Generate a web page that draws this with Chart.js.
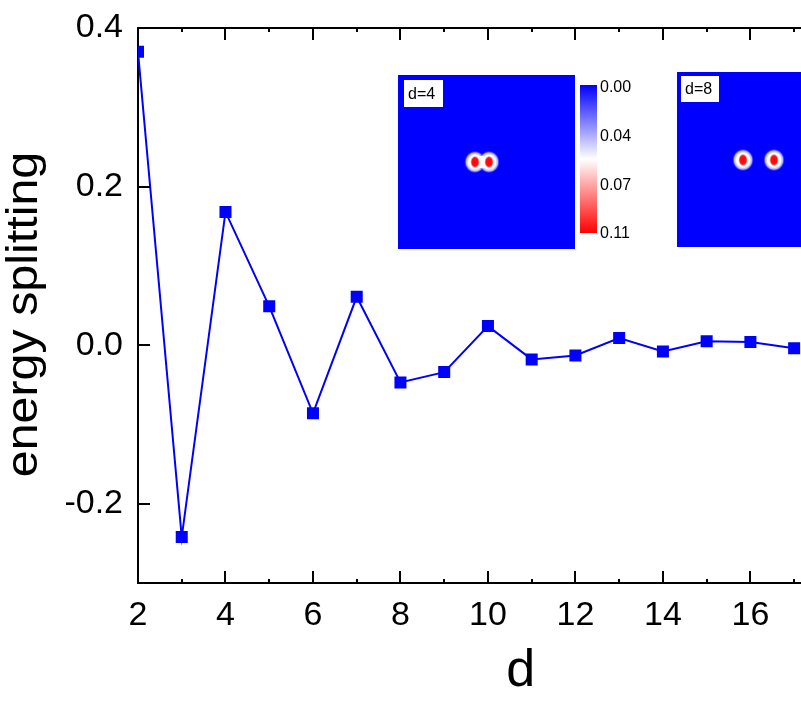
<!DOCTYPE html>
<html>
<head>
<meta charset="utf-8">
<script src="https://cdn.jsdelivr.net/npm/chart.js@4.4.1/dist/chart.umd.min.js"></script>
<style>
  html, body { margin: 0; padding: 0; background: #fff; overflow: hidden; }
  #wrap { width: 801px; height: 718px; overflow: hidden; }
  #myChart { display: block; }
</style>
</head>
<body>
<div id="wrap"><canvas id="myChart" width="912" height="718" style="width:912px;height:718px"></canvas></div>
<script>
// distance d and the energy splitting
const dValues = [2, 3, 4, 5, 6, 7, 8, 9, 10, 11, 12, 13, 14, 15, 16, 17];
const splitting = [0.370, -0.242, 0.168, 0.049, -0.086, 0.061, -0.047, -0.034,
                   0.024, -0.018, -0.013, 0.009, -0.008, 0.005, 0.004, -0.004];

// colour bar labels of the density insets
const cbarLabels = ['0.00', '0.04', '0.07', '0.11'];
const insetLabels = ['d=4', 'd=8'];

const FONT = 'Liberation Sans, Arial, Helvetica, sans-serif';
const BLUE = 'rgb(0,0,255)';

// frame, inward ticks and minor ticks
const frameTicks = {
  id: 'frameTicks',
  afterDraw(chart) {
    const { ctx, chartArea: a, scales: { x, y } } = chart;
    ctx.save();
    ctx.strokeStyle = '#000';
    ctx.lineWidth = 2;
    ctx.beginPath();
    ctx.moveTo(a.left - 1, a.top);
    ctx.lineTo(a.right, a.top);
    ctx.lineTo(a.right, a.bottom);
    ctx.stroke();
    ctx.beginPath();
    x.ticks.forEach(t => {
      const px = Math.round(x.getPixelForValue(t.value));
      ctx.moveTo(px, a.bottom); ctx.lineTo(px, a.bottom - 12);
      ctx.moveTo(px, a.top); ctx.lineTo(px, a.top + 12);
    });
    for (let v = Math.ceil(x.min); v <= x.max; v++) {
      if (v % 2 === 0) continue;
      const px = Math.round(x.getPixelForValue(v));
      ctx.moveTo(px, a.bottom); ctx.lineTo(px, a.bottom - 4);
      ctx.moveTo(px, a.top); ctx.lineTo(px, a.top + 4);
    }
    y.ticks.forEach(t => {
      const py = Math.round(y.getPixelForValue(t.value));
      ctx.moveTo(a.left, py); ctx.lineTo(a.left + 12, py);
    });
    ctx.stroke();

    // y title, stretched a little along its length like the original
    ctx.fillStyle = '#000';
    ctx.font = '44px ' + FONT;
    ctx.textAlign = 'center';
    ctx.textBaseline = 'middle';
    ctx.translate(25, (a.top + a.bottom) / 2 + 9);
    ctx.rotate(-Math.PI / 2);
    ctx.scale(1.1, 1);
    ctx.fillText('energy splitting', 0, 0);
    ctx.restore();
  }
};

function drawSpot(ctx, cx, cy) {
  ctx.save();
  ctx.translate(cx, cy);
  ctx.scale(1, 1.05);
  let g = ctx.createRadialGradient(0, 0, 0, 0, 0, 11);
  g.addColorStop(0, 'rgba(255,255,255,1)');
  g.addColorStop(0.6, 'rgba(255,255,255,1)');
  g.addColorStop(0.8, 'rgba(215,215,255,0.8)');
  g.addColorStop(1, 'rgba(0,0,255,0)');
  ctx.fillStyle = g;
  ctx.beginPath(); ctx.arc(0, 0, 11, 0, Math.PI * 2); ctx.fill();
  ctx.restore();
}

function drawCore(ctx, cx, cy) {
  ctx.save();
  ctx.translate(cx, cy);
  ctx.scale(1, 1.35);
  const g = ctx.createRadialGradient(0, 0, 0, 0, 0, 5);
  g.addColorStop(0, 'rgb(255,0,0)');
  g.addColorStop(0.65, 'rgb(255,20,20)');
  g.addColorStop(1, 'rgba(255,220,220,0)');
  ctx.fillStyle = g;
  ctx.beginPath(); ctx.arc(0, 0, 5, 0, Math.PI * 2); ctx.fill();
  ctx.restore();
}

function drawInset(ctx, box, label, spots) {
  ctx.fillStyle = BLUE;
  ctx.fillRect(box.x, box.y, box.w, box.h);
  spots.forEach(s => drawSpot(ctx, s[0], s[1]));
  if (spots[1][0] - spots[0][0] < 20) {
    // close pair: the halos merge into one white band
    ctx.fillStyle = '#fff';
    ctx.fillRect(spots[0][0], spots[0][1] - 6, spots[1][0] - spots[0][0], 12);
  }
  spots.forEach(s => drawCore(ctx, s[0], s[1]));
  ctx.fillStyle = '#fff';
  ctx.fillRect(box.x + box.lx, box.y + box.ly, box.lw, box.lh);
  ctx.fillStyle = '#000';
  ctx.font = '16px ' + FONT;
  ctx.textBaseline = 'middle';
  ctx.textAlign = 'left';
  ctx.fillText(label, box.x + box.lx + 4, box.y + box.ly + box.lh / 2 + 1);
}

const insets = {
  id: 'insets',
  afterDraw(chart) {
    const ctx = chart.ctx;
    ctx.save();
    drawInset(ctx, { x: 398, y: 75, w: 177, h: 174, lx: 6, ly: 5, lw: 39, lh: 27 },
      insetLabels[0], [[475, 162], [489, 162]]);
    drawInset(ctx, { x: 677, y: 72, w: 177, h: 175, lx: 4, ly: 4, lw: 38, lh: 26 },
      insetLabels[1], [[743, 160], [774, 160]]);

    // colour bar
    const cb = { x: 580, y: 85, w: 17, h: 148 };
    const g = ctx.createLinearGradient(0, cb.y, 0, cb.y + cb.h);
    g.addColorStop(0, 'rgb(0,0,255)');
    g.addColorStop(0.5, 'rgb(255,255,255)');
    g.addColorStop(1, 'rgb(255,0,0)');
    ctx.fillStyle = g;
    ctx.fillRect(cb.x, cb.y, cb.w, cb.h);
    ctx.fillStyle = '#000';
    ctx.font = '16px ' + FONT;
    ctx.textBaseline = 'middle';
    ctx.textAlign = 'left';
    cbarLabels.forEach((t, i) => {
      ctx.fillText(t, cb.x + cb.w + 3, cb.y + 3 + i * (cb.h - 2) / (cbarLabels.length - 1));
    });
    ctx.restore();
  }
};

// keep the plot area where the original has it, whatever the label overhang
function noOverhang(scale) {
  scale.paddingTop = 0;
  scale.paddingBottom = 0;
  scale.paddingLeft = 0;
  scale.paddingRight = 0;
}

new Chart(document.getElementById('myChart'), {
  type: 'line',
  data: {
    datasets: [{
      data: dValues.map((d, i) => ({ x: d, y: splitting[i] })),
      borderColor: BLUE,
      backgroundColor: BLUE,
      borderWidth: 2,
      pointStyle: 'rect',
      pointRadius: 8.5,
      pointBorderWidth: 0,
      pointBackgroundColor: BLUE,
      tension: 0,
      clip: 0
    }]
  },
  options: {
    responsive: false,
    maintainAspectRatio: false,
    animation: false,
    devicePixelRatio: 1,
    layout: { padding: { left: 0, top: 28, right: 1.5, bottom: 0 } },
    plugins: { legend: { display: false }, tooltip: { enabled: false } },
    scales: {
      x: {
        type: 'linear',
        min: 2,
        max: 19.5,
        grid: { display: false, drawTicks: false },
        border: { display: true, color: '#000', width: 2 },
        ticks: {
          stepSize: 2, includeBounds: false, padding: 12,
          color: '#000', font: { family: FONT, size: 34 }, maxRotation: 0
        },
        title: {
          display: true, text: 'd', color: '#000',
          font: { family: FONT, size: 52, lineHeight: 1 }, padding: 20
        },
        afterFit(scale) { scale.height = 135; noOverhang(scale); }
      },
      y: {
        min: -0.3,
        max: 0.4,
        grid: { display: false, drawTicks: false },
        border: { display: true, color: '#000', width: 2 },
        ticks: {
          stepSize: 0.2, includeBounds: false, padding: 15,
          color: '#000', font: { family: FONT, size: 34 },
          callback: v => v.toFixed(1)
        },
        title: { display: false },
        afterFit(scale) { scale.width = 138; noOverhang(scale); }
      }
    }
  },
  plugins: [frameTicks, insets]
});
</script>
</body>
</html>
